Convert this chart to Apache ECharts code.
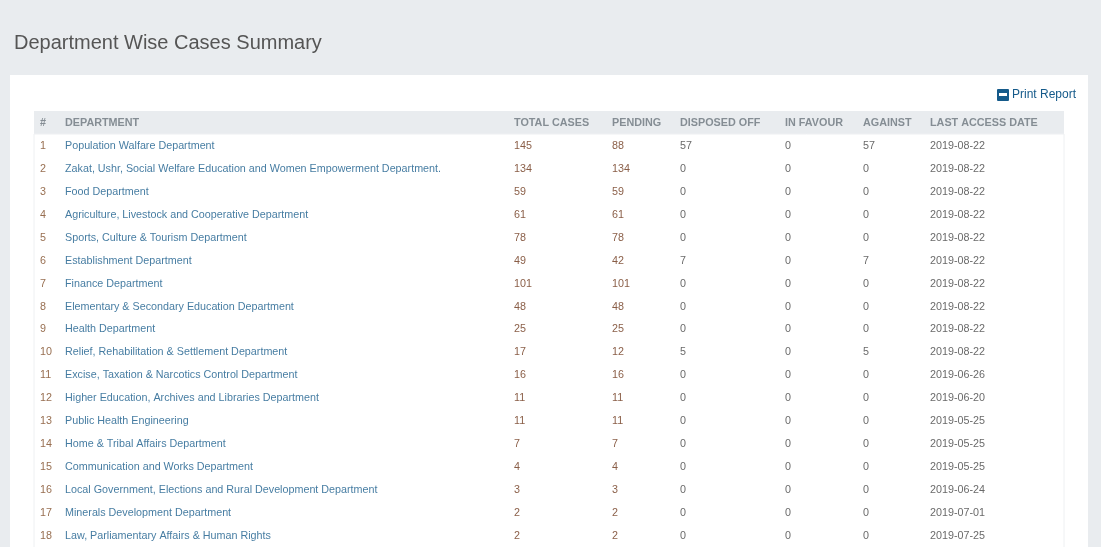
<!DOCTYPE html>
<html>
<head>
<meta charset="UTF-8">
<title>Department Wise Cases Summary</title>
<script src="https://cdn.jsdelivr.net/npm/echarts/dist/echarts.min.js"></script>
<style>
  html, body { margin: 0; padding: 0; background: #e9ecef; }
  #chart { width: 1101px; height: 547px; }
</style>
</head>
<body>
<div id="chart"></div>
<script>
// table data
const headers = ['#', 'DEPARTMENT', 'TOTAL CASES', 'PENDING', 'DISPOSED OFF', 'IN FAVOUR', 'AGAINST', 'LAST ACCESS DATE'];
const departments = [
  'Population Walfare Department',
  'Zakat, Ushr, Social Welfare Education and Women Empowerment Department.',
  'Food Department',
  'Agriculture, Livestock and Cooperative Department',
  'Sports, Culture & Tourism Department',
  'Establishment Department',
  'Finance Department',
  'Elementary & Secondary Education Department',
  'Health Department',
  'Relief, Rehabilitation & Settlement Department',
  'Excise, Taxation & Narcotics Control Department',
  'Higher Education, Archives and Libraries Department',
  'Public Health Engineering',
  'Home & Tribal Affairs Department',
  'Communication and Works Department',
  'Local Government, Elections and Rural Development Department',
  'Minerals Development Department',
  'Law, Parliamentary Affairs & Human Rights'
];
const totalCases = [145, 134, 59, 61, 78, 49, 101, 48, 25, 17, 16, 11, 11, 7, 4, 3, 2, 2];
const pending    = [88, 134, 59, 61, 78, 42, 101, 48, 25, 12, 16, 11, 11, 7, 4, 3, 2, 2];
const disposed   = [57, 0, 0, 0, 0, 7, 0, 0, 0, 5, 0, 0, 0, 0, 0, 0, 0, 0];
const inFavour   = [0, 0, 0, 0, 0, 0, 0, 0, 0, 0, 0, 0, 0, 0, 0, 0, 0, 0];
const against    = [57, 0, 0, 0, 0, 7, 0, 0, 0, 5, 0, 0, 0, 0, 0, 0, 0, 0];
const lastAccess = ['2019-08-22', '2019-08-22', '2019-08-22', '2019-08-22', '2019-08-22', '2019-08-22',
  '2019-08-22', '2019-08-22', '2019-08-22', '2019-08-22', '2019-06-26', '2019-06-20', '2019-05-25',
  '2019-05-25', '2019-05-25', '2019-06-24', '2019-07-01', '2019-07-25'];

// layout
const colX = [40, 65, 514, 612, 680, 785, 863, 930];
const colColor = ['#7d4a24', '#155a8a', '#6b3518', '#6b3518', '#444', '#444', '#444', '#444'];
const rowLabels = ['h'].concat(departments.map((d, i) => String(i + 1)));

const columns = [
  departments.map((d, i) => String(i + 1)),
  departments,
  totalCases.map(String),
  pending.map(String),
  disposed.map(String),
  inFavour.map(String),
  against.map(String),
  lastAccess
];

const FONT = 'Liberation Sans, Arial, sans-serif';
const series = [];
// header row
series.push({
  type: 'scatter', symbolSize: 0, silent: true,
  data: headers.map((h, c) => ({ value: [colX[c], 0], name: h })),
  label: { show: true, position: 'insideLeft', formatter: p => p.name, distance: 0,
    color: '#6c757d', fontSize: 10.8, fontWeight: 'bold', fontFamily: FONT }
});
columns.forEach((vals, c) => {
  series.push({
    type: 'scatter', symbolSize: 0, silent: true,
    data: vals.map((v, r) => ({ value: [colX[c], r + 1], name: v })),
    label: { show: true, position: 'insideLeft', formatter: p => p.name, distance: 0,
      color: colColor[c], fontSize: 10.75, fontFamily: FONT }
  });
});

const chart = echarts.init(document.getElementById('chart'));
chart.setOption({
  animation: false,
  title: { text: 'Department Wise Cases Summary', left: 9, top: 28,
    textStyle: { fontSize: 20, fontWeight: 'lighter', color: '#555', fontFamily: FONT } },
  graphic: [
    { type: 'rect', z: -10, shape: { x: 10, y: 75, width: 1078, height: 480 }, style: { fill: '#fff' } },
    { type: 'rect', z: -9, shape: { x: 34, y: 111, width: 1030, height: 23 }, style: { fill: '#e9ecef' } },
    { type: 'rect', z: -9, shape: { x: 34, y: 134, width: 1030, height: 420 }, style: { fill: 'none', stroke: '#eef0f2' } },
    { type: 'rect', shape: { x: 997, y: 89, width: 12, height: 12, r: 1 }, style: { fill: '#155a8a' } },
    { type: 'rect', shape: { x: 999, y: 93, width: 8, height: 3 }, style: { fill: '#fff' } },
    { type: 'text', x: 1012, y: 89, style: { text: 'Print Report', fill: '#155a8a', fontSize: 12, fontFamily: FONT } }
  ],
  grid: { left: 0, right: 0, top: 112, height: 437 },
  xAxis: { type: 'value', min: 0, max: 1101, show: false },
  yAxis: { type: 'category', data: rowLabels, inverse: true, show: false },
  series: series
});
</script>
</body>
</html>
